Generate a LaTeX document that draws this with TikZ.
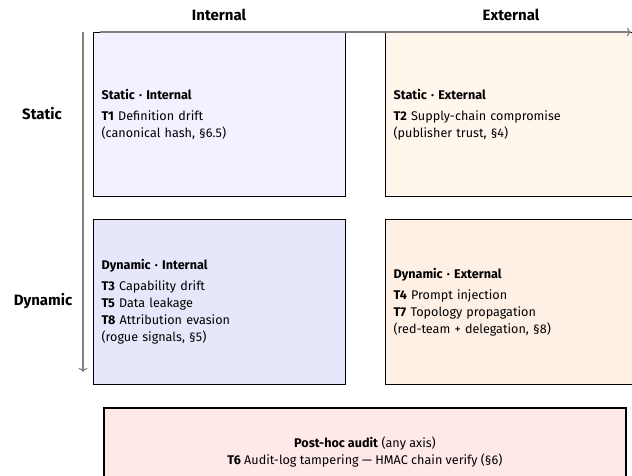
\documentclass[tikz,border=0pt]{standalone}
\usepackage{fontspec}
\setmainfont{Fira Sans}
\usetikzlibrary{arrows.meta}
\definecolor{siFill}{RGB}{241,241,255}
\definecolor{diFill}{RGB}{231,231,251}
\definecolor{seFill}{RGB}{255,246,236}
\definecolor{deFill}{RGB}{254,240,229}
\definecolor{phFill}{RGB}{255,232,232}
\definecolor{axisgray}{RGB}{128,128,128}
\begin{document}
\begin{tikzpicture}[x=1pt,y=-1pt,
  cell/.style={draw=black, line width=1.2pt, minimum width=252pt, minimum height=164pt,
    text width=236pt, inner sep=8pt, align=left, anchor=north west,
    font=\fontsize{12.6}{17}\selectfont},
  axislabel/.style={font=\fontsize{15}{17}\selectfont\bfseries},
  axisline/.style={draw=axisgray, line width=1.1pt, -{To[length=4pt,width=9pt]}},
  audit/.style={draw=black, line width=1.2pt, minimum width=522pt, minimum height=88pt,
    align=center, fill=phFill, font=\fontsize{12.6}{17}\selectfont}]
\useasboundingbox (0,0) rectangle (632,476);
\clip (0,0) rectangle (632,476);

\node[cell, fill=siFill] (si) at (93,32) {\textbf{Static · Internal}\\[4pt]
  \textbf{T1} Definition drift\\(canonical hash, §6.5)};
\node[cell, fill=seFill] (se) at (385,32) {\textbf{Static · External}\\[4pt]
  \textbf{T2} Supply-chain compromise\\(publisher trust, §4)};
\node[cell, fill=diFill, minimum height=165pt] (di) at (93,219) {\textbf{Dynamic · Internal}\\[4pt]
  \textbf{T3} Capability drift\\\textbf{T5} Data leakage\\\textbf{T8} Attribution evasion\\(rogue signals, §5)};
\node[cell, fill=deFill, minimum height=165pt] (de) at (385,219) {\textbf{Dynamic · External}\\[4pt]
  \textbf{T4} Prompt injection\\\textbf{T7} Topology propagation\\(red-team + delegation, §8)};

\node[audit] (ph) at (365,452) {\textbf{Post-hoc audit} (any axis)\\
  \textbf{T6} Audit-log tampering — HMAC chain verify (§6)};

\node[axislabel] (lint) at (219,15) {Internal};
\node[axislabel] (lext) at (511,15) {External};
\node[axislabel] (lsta) at (42,114) {Static};
\node[axislabel] (ldyn) at (43,301) {Dynamic};

\coordinate (vtop) at (83,32);
\coordinate (vbot) at (83,372);
\coordinate (hleft) at (100,32);
\coordinate (hright) at (631,32);
\draw[axisline] (vtop) -- (vbot);
\draw[axisline] (hleft) -- (hright);
\end{tikzpicture}
\end{document}
